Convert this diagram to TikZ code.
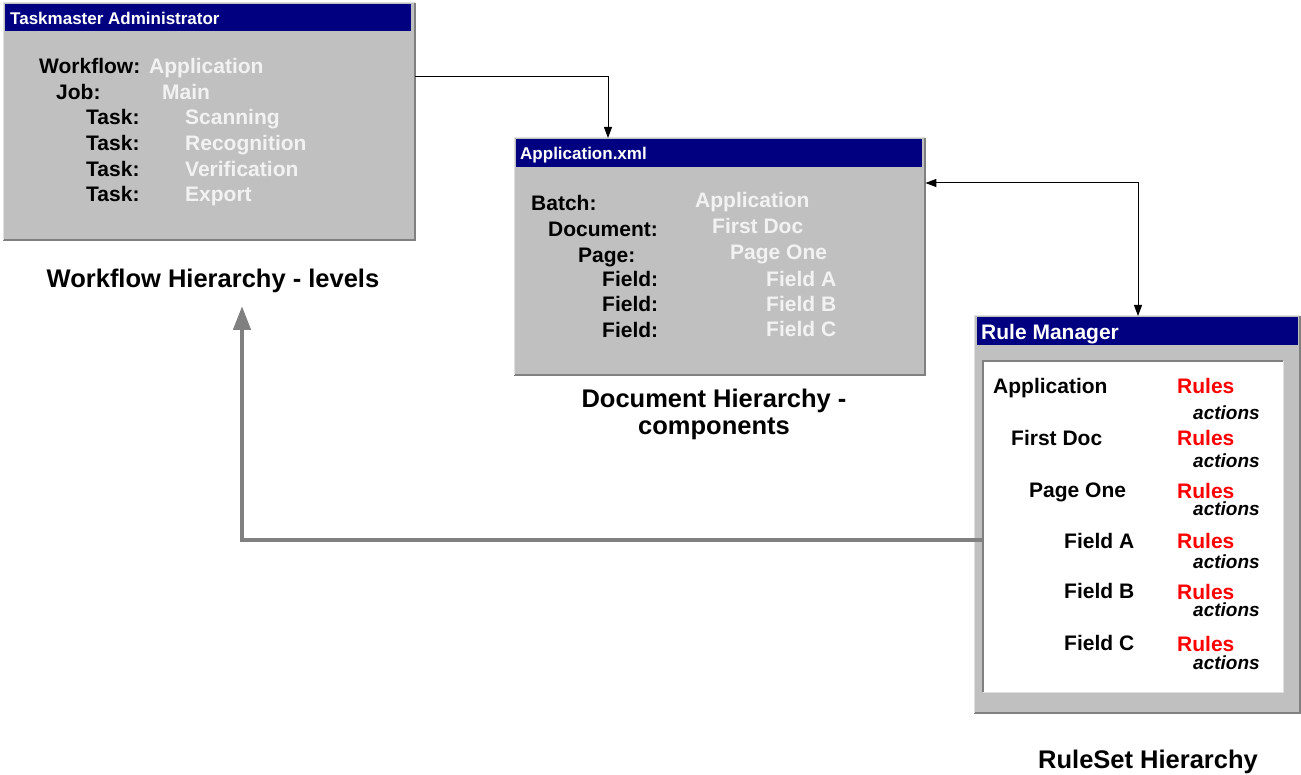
\documentclass[tikz,border=0pt]{standalone}
\usepackage{fontspec}
\setmainfont{Liberation Sans}
\usetikzlibrary{arrows.meta}
\definecolor{navy}{HTML}{000080}
\definecolor{panelgray}{HTML}{C0C0C0}
\definecolor{darkedge}{HTML}{808080}
\definecolor{lightedge}{HTML}{E0E0E0}
\definecolor{valtext}{HTML}{F2F2F2}
\definecolor{rulered}{HTML}{FF0000}
\tikzset{
  panel/.style={fill=panelgray, draw=none, anchor=north west, inner sep=0pt},
  titlebar/.style={fill=navy, draw=none, anchor=north west, inner sep=0pt},
  inset/.style={fill=white, draw=none, anchor=north west, inner sep=0pt},
  ttl/.style={anchor=base west, inner sep=0pt, text=white, font=\fontsize{17}{20}\selectfont\bfseries},
  bigttl/.style={anchor=base west, inner sep=0pt, text=white, font=\fontsize{21}{25}\selectfont\bfseries},
  lbl/.style={anchor=base west, inner sep=0pt, text=black, font=\fontsize{21}{25}\selectfont\bfseries},
  val/.style={anchor=base west, inner sep=0pt, text=valtext, font=\fontsize{21}{25}\selectfont\bfseries},
  rul/.style={anchor=base west, inner sep=0pt, text=rulered, font=\fontsize{21}{25}\selectfont\bfseries},
  act/.style={anchor=base west, inner sep=0pt, text=black, font=\fontsize{19}{22}\selectfont\bfseries\itshape},
  caption/.style={anchor=base, inner sep=0pt, text=black, font=\fontsize{25.5}{29}\selectfont\bfseries},
  conn/.style={draw=black, line width=1pt, -{Triangle[length=11pt,width=8pt]}},
  biconn/.style={draw=black, line width=1pt, {Triangle[length=11pt,width=8pt]}-{Triangle[length=11pt,width=8pt]}},
  grayconn/.style={draw=darkedge, line width=4.5pt, -{Triangle[length=24pt,width=17pt]}},
  shadowR/.style={draw=darkedge, line width=2pt},
  hiliteL/.style={draw=lightedge, line width=1pt}
}
\begin{document}
\begin{tikzpicture}[x=1pt,y=-1pt]
\useasboundingbox[fill=white] (0,0) rectangle (1301,775);

% ---------------- Taskmaster Administrator box ----------------
\node[panel, minimum width=412pt, minimum height=237pt] (tm) at (3,3) {};
\draw[shadowR] (tm.north east) -- (tm.south east) -- (tm.south west);
\draw[hiliteL] (tm.south west) -- (tm.north west) -- (tm.north east);
\node[titlebar, minimum width=406pt, minimum height=27pt] (tmtitle) at (5,4) {};
\node[ttl] (tmt) at (10,25) {Taskmaster Administrator};
\node[lbl] (tl1) at (39,74) {Workflow:};
\node[val] (tv1) at (149,74) {Application};
\node[lbl] (tl2) at (56,100) {Job:};
\node[val] (tv2) at (162,100) {Main};
\node[lbl] (tl3) at (86,125) {Task:};
\node[val] (tv3) at (185,125) {Scanning};
\node[lbl] (tl4) at (86,151) {Task:};
\node[val] (tv4) at (185,151) {Recognition};
\node[lbl] (tl5) at (86,177) {Task:};
\node[val] (tv5) at (185,177) {Verification};
\node[lbl] (tl6) at (86,202) {Task:};
\node[val] (tv6) at (185,202) {Export};
\node[caption] (cap1) at (213,288) {Workflow Hierarchy - levels};

% ---------------- Application.xml box ----------------
\node[panel, minimum width=411pt, minimum height=237pt] (ax) at (514,138) {};
\draw[shadowR] (ax.north east) -- (ax.south east) -- (ax.south west);
\draw[hiliteL] (ax.south west) -- (ax.north west) -- (ax.north east);
\node[titlebar, minimum width=406pt, minimum height=28pt] (axtitle) at (516,139) {};
\node[ttl] (axt) at (520,160) {Application.xml};
\node[lbl] (al1) at (531,211) {Batch:};
\node[val] (av1) at (695,208) {Application};
\node[lbl] (al2) at (548,237) {Document:};
\node[val] (av2) at (712,234) {First Doc};
\node[lbl] (al3) at (578,263) {Page:};
\node[val] (av3) at (730,260) {Page One};
\node[lbl] (al4) at (602,287) {Field:};
\node[val] (av4) at (766,287) {Field A};
\node[lbl] (al5) at (602,312) {Field:};
\node[val] (av5) at (766,312) {Field B};
\node[lbl] (al6) at (602,338) {Field:};
\node[val] (av6) at (766,337) {Field C};
\node[caption] (cap2a) at (714,407) {Document Hierarchy -};
\node[caption] (cap2b) at (714,435) {components};

% ---------------- Rule Manager box ----------------
\node[panel, minimum width=326pt, minimum height=397pt] (rm) at (974,316) {};
\draw[shadowR] (rm.north east) -- (rm.south east) -- (rm.south west);
\draw[hiliteL] (rm.south west) -- (rm.north west) -- (rm.north east);
\node[titlebar, minimum width=321pt, minimum height=28pt] (rmtitle) at (977,317) {};
\node[bigttl] (rmt) at (981,340) {Rule Manager};
\node[inset, minimum width=300pt, minimum height=331pt] (rmin) at (983,361) {};
\draw[draw=darkedge, line width=2pt] (rmin.south west) -- (rmin.north west) -- (rmin.north east);
\draw[draw=lightedge, line width=1.5pt] (rmin.north east) -- (rmin.south east) -- (rmin.south west);

\node[lbl] (r1) at (993,393) {Application};
\node[rul] (q1) at (1177,394) {Rules};
\node[act] (s1) at (1193,420) {actions};
\node[lbl] (r2) at (1011,445) {First Doc};
\node[rul] (q2) at (1177,445) {Rules};
\node[act] (s2) at (1193,467) {actions};
\node[lbl] (r3) at (1029,497) {Page One};
\node[rul] (q3) at (1177,498) {Rules};
\node[act] (s3) at (1193,515) {actions};
\node[lbl] (r4) at (1064,548) {Field A};
\node[rul] (q4) at (1177,548) {Rules};
\node[act] (s4) at (1193,568) {actions};
\node[lbl] (r5) at (1064,598) {Field B};
\node[rul] (q5) at (1177,599) {Rules};
\node[act] (s5) at (1193,616) {actions};
\node[lbl] (r6) at (1064,650) {Field C};
\node[rul] (q6) at (1177,651) {Rules};
\node[act] (s6) at (1193,669) {actions};
\node[caption] (cap3) at (1148,768) {RuleSet Hierarchy};

% ---------------- Connectors ----------------
\coordinate (c1) at (608,77);
\draw[conn] (tm.east |- c1) -| (ax.north -| c1);
\coordinate (c2) at (1138,183);
\draw[biconn] (ax.east |- c2) -| (rm.north -| c2);
\coordinate (c3) at (242,540);
\coordinate (c4) at (242,306);
\draw[grayconn] (rmin.west |- c3) -| (c4);
\end{tikzpicture}
\end{document}
